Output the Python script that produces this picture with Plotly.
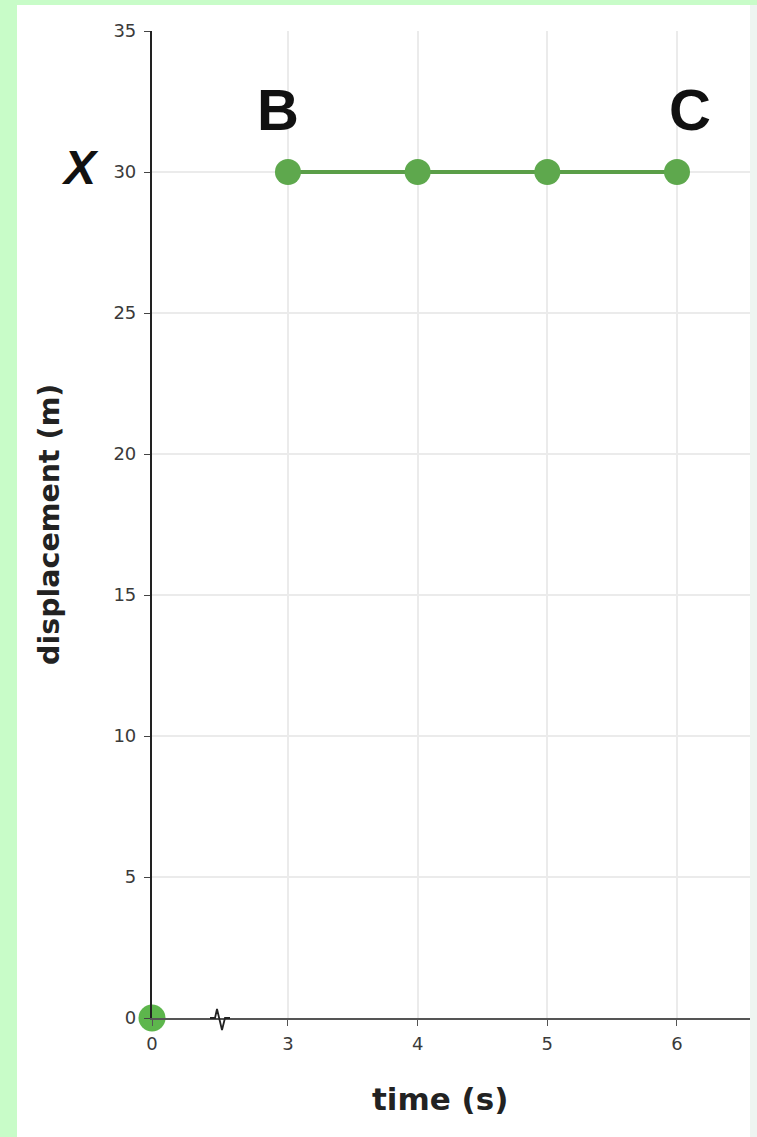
import plotly.graph_objects as go

# ---- data ----
time_s = [0, 3, 4, 5, 6]
displacement_m = [0, 30, 30, 30, 30]
x_ticks_main = [3, 4, 5, 6]
y_ticks = [0, 5, 10, 15, 20, 25, 30, 35]
point_labels = ["B", "C"]
point_label_times = [2.92, 6.1]
point_label_disp = [32.2, 32.2]

BREAK = 3  # times below this value are shown on the left segment of the broken axis

GREEN_LINE = "#5a9e48"
GREEN_MARK = "#5ea84d"

t_pre = [t for t in time_s if t < BREAK]
d_pre = [d for t, d in zip(time_s, displacement_m) if t < BREAK]
t_post = [t for t in time_s if t >= BREAK]
d_post = [d for t, d in zip(time_s, displacement_m) if t >= BREAK]

fig = go.Figure()
fig.add_trace(go.Scatter(
    x=t_pre, y=d_pre, xaxis="x", yaxis="y", mode="markers",
    marker=dict(size=27, color="#5db64c"), cliponaxis=False, showlegend=False,
))
fig.add_trace(go.Scatter(
    x=t_post, y=d_post, xaxis="x2", yaxis="y", mode="lines+markers",
    line=dict(color=GREEN_LINE, width=4),
    marker=dict(size=26, color=GREEN_MARK), cliponaxis=False, showlegend=False,
))

W, H = 757, 1137
ML, MR, MT, MB = 152, 7, 31, 119
pw = W - ML - MR
ph = H - MT - MB
d1 = 68 / pw

def px_x(p):
    return (p - ML) / pw

def px_y(p):
    return (H - MB - p) / ph

tickfont = dict(family="DejaVu Sans", size=18, color="#3a3a3a")

fig.update_layout(
    width=W, height=H,
    margin=dict(l=ML, r=MR, t=MT, b=MB, pad=0),
    paper_bgcolor="#c8fcc8",
    plot_bgcolor="rgba(0,0,0,0)",
    xaxis=dict(
        domain=[0, d1], range=[0, 1], anchor="y",
        tickvals=[0], ticktext=["0"], showgrid=False, zeroline=False,
        showline=True, linecolor="#555", linewidth=1.5,
        ticks="outside", ticklen=6, tickcolor="#555", tickfont=tickfont,
        ticklabelstandoff=3, fixedrange=True,
    ),
    xaxis2=dict(
        domain=[d1, 1], range=[2.476, 6.563], anchor="y",
        tickvals=x_ticks_main, showgrid=True, gridcolor="#ebebeb", gridwidth=1.5,
        zeroline=False, showline=True, linecolor="#555", linewidth=1.5,
        ticks="outside", ticklen=6, tickcolor="#555", tickfont=tickfont,
        ticklabelstandoff=3, fixedrange=True,
    ),
    yaxis=dict(
        range=[0, 35], tickvals=y_ticks, anchor="x",
        showgrid=True, gridcolor="#ebebeb", gridwidth=1.5, zeroline=False,
        showline=True, linecolor="#222", linewidth=2.2,
        ticks="outside", ticklen=6, tickcolor="#444", tickfont=tickfont,
        ticklabelstandoff=4, fixedrange=True,
    ),
    shapes=[
        dict(type="rect", xref="paper", yref="paper", layer="below",
             x0=px_x(17), x1=px_x(751), y0=px_y(H + 5), y1=px_y(5),
             fillcolor="white", line=dict(width=0)),
        dict(type="rect", xref="paper", yref="paper", layer="below",
             x0=px_x(750), x1=px_x(W + 5), y0=px_y(H + 5), y1=px_y(5),
             fillcolor="#eef5f1", line=dict(width=0)),
        dict(type="path", xref="paper", yref="paper",
             xsizemode="pixel", ysizemode="pixel", xanchor=d1, yanchor=0,
             path="M -10,0 L -5,0 L -3,9 L 2,-12 L 5,0 L 10,0",
             line=dict(color="#222", width=1.8)),
    ],
)

annotations = [
    dict(text="<b>time (s)</b>", xref="paper", yref="paper", x=px_x(440), y=px_y(1099),
         showarrow=False, font=dict(family="DejaVu Sans", size=31, color="#222"),
         xanchor="center", yanchor="middle"),
    dict(text="<b>displacement (m)</b>", xref="paper", yref="paper", x=px_x(49), y=px_y(525),
         showarrow=False, textangle=-90,
         font=dict(family="DejaVu Sans", size=28.5, color="#222"),
         xanchor="center", yanchor="middle"),
    dict(text="<b><i>X</i></b>", xref="paper", yref="y", x=px_x(80), y=30.15,
         showarrow=False, font=dict(family="Liberation Sans", size=48, color="#111"),
         xanchor="center", yanchor="middle"),
]
for lab, t, d in zip(point_labels, point_label_times, point_label_disp):
    annotations.append(dict(
        text=f"<b>{lab}</b>", xref="x2", yref="y", x=t, y=d, showarrow=False,
        font=dict(family="Liberation Sans", size=58, color="#111"),
        xanchor="center", yanchor="middle",
    ))
fig.update_layout(annotations=annotations)

fig.write_html(
    "out.html",
    config={"displayModeBar": False},
    post_script="document.body.style.margin='0';document.body.style.padding='0';",
)
